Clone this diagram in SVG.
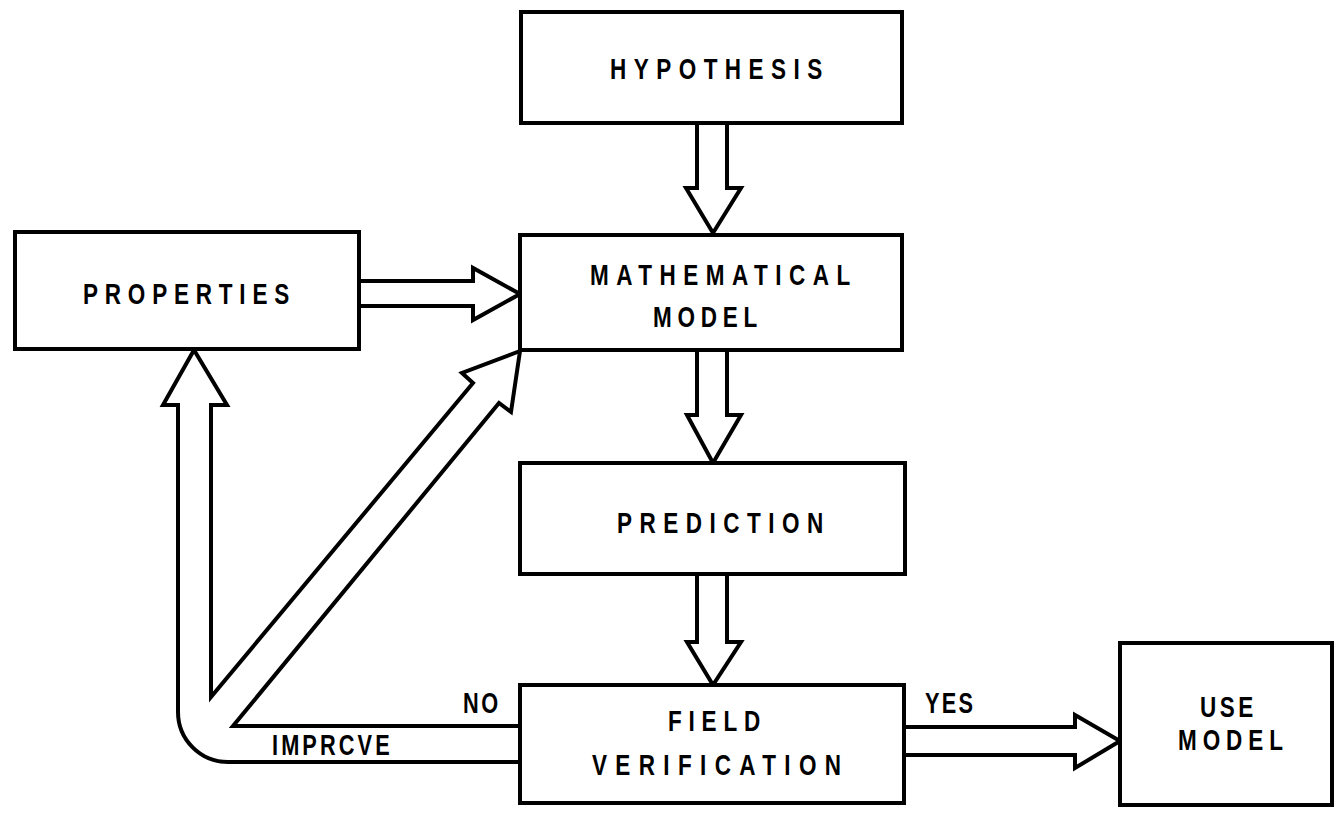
<svg xmlns="http://www.w3.org/2000/svg" width="1341" height="813" viewBox="0 0 1341 813">
  <defs>
    <style>
      .box { fill: #ffffff; stroke: #000000; stroke-width: 4; stroke-linejoin: miter; }
      .pipe { fill: none; stroke: #000000; stroke-width: 4; stroke-linejoin: miter; stroke-linecap: butt; }
      .lbl { font-family: "Liberation Sans", Arial, sans-serif; font-weight: bold; font-size: 30px; fill: #000000; }
      .tag { font-family: "Liberation Sans", Arial, sans-serif; font-weight: bold; font-size: 29px; fill: #000000; }
    </style>
  </defs>

  <rect width="1341" height="813" fill="#ffffff"/>

  <!-- Connectors: hollow double-line arrows; lettering is condensed by a 0.75 horizontal scale -->
  <g id="connectors">
    <!-- hypothesis to model -->
    <path class="pipe" d="M697,123 V188 H686 L713,233 L741,188 H727 V123"/>
    <!-- properties to model -->
    <path class="pipe" d="M359,281 H473 V268 L520,294 L473,320 V306 H359"/>
    <!-- model to prediction -->
    <path class="pipe" d="M697,350 V415 H687 L713,463 L741,415 H727 V350"/>
    <!-- prediction to field verification -->
    <path class="pipe" d="M697,574 V642 H687 L713,685 L741,642 H727 V574"/>
    <!-- field verification to use model (YES) -->
    <path class="pipe" d="M904,727 H1075 V715 L1120,741 L1075,768 V755 H904"/>
    <!-- improvement loop (NO): back to properties and to the model -->
    <path class="pipe" d="M520,762 H228 A50,50 0 0 1 178,712 V405 H163 L194,350 L227,405 H211 V697 L473,383 L462,373 L520,351 L511,412 L499,403 L233,726 H520"/>
    <text class="tag" transform="translate(463,713) scale(0.75,1)" textLength="47" lengthAdjust="spacing">NO</text>
    <text class="tag" transform="translate(272,755) scale(0.75,1)" textLength="157" lengthAdjust="spacing">IMPRCVE</text>
    <text class="tag" transform="translate(925,713) scale(0.75,1)" textLength="64" lengthAdjust="spacing">YES</text>
  </g>

  <g id="hypothesis">
    <rect class="box" x="521" y="12" width="381" height="111"/>
    <text class="lbl" transform="translate(610,79) scale(0.75,1)" textLength="283" lengthAdjust="spacing">HYPOTHESIS</text>
  </g>

  <g id="properties">
    <rect class="box" x="15" y="232" width="344" height="117"/>
    <text class="lbl" transform="translate(83,304) scale(0.75,1)" textLength="275" lengthAdjust="spacing">PROPERTIES</text>
  </g>

  <g id="mathematical-model">
    <rect class="box" x="520" y="235" width="382" height="115"/>
    <text class="lbl" transform="translate(590,285) scale(0.75,1)" textLength="347" lengthAdjust="spacing">MATHEMATICAL</text>
    <text class="lbl" transform="translate(653,327) scale(0.75,1)" textLength="139" lengthAdjust="spacing">MODEL</text>
  </g>

  <g id="prediction">
    <rect class="box" x="520" y="463" width="385" height="111"/>
    <text class="lbl" transform="translate(617,533) scale(0.75,1)" textLength="275" lengthAdjust="spacing">PREDICTION</text>
  </g>

  <g id="field-verification">
    <rect class="box" x="520" y="685" width="384" height="118"/>
    <text class="lbl" transform="translate(668,731) scale(0.75,1)" textLength="123" lengthAdjust="spacing">FIELD</text>
    <text class="lbl" transform="translate(592,775) scale(0.75,1)" textLength="332" lengthAdjust="spacing">VERIFICATION</text>
  </g>

  <g id="use-model">
    <rect class="box" x="1120" y="643" width="212" height="162"/>
    <text class="lbl" transform="translate(1200,717) scale(0.75,1)" textLength="71" lengthAdjust="spacing">USE</text>
    <text class="lbl" transform="translate(1178,750) scale(0.75,1)" textLength="140" lengthAdjust="spacing">MODEL</text>
  </g>
</svg>
